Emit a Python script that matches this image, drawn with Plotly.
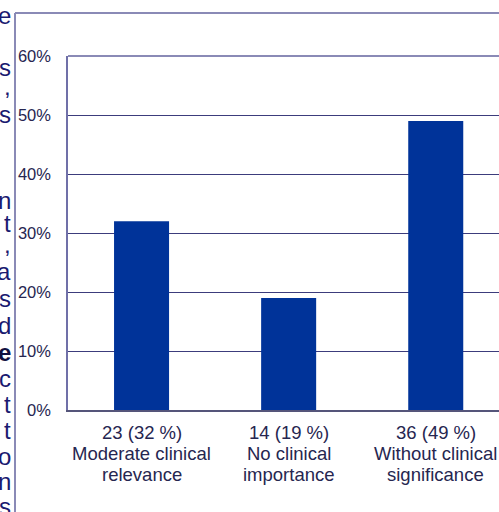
import plotly.graph_objects as go

# ---- data ----
categories = ["Moderate clinical relevance", "No clinical importance", "Without clinical significance"]
counts = [23, 14, 36]
shares = [0.32, 0.19, 0.49]
tick_labels = ["23 (32 %)<br>Moderate clinical<br>relevance",
               "14 (19 %)<br>No clinical<br>importance",
               "36 (49 %)<br>Without clinical<br>significance"]
y_ticks = [0, 0.1, 0.2, 0.3, 0.4, 0.5, 0.6]
y_tick_text = ["0%", "10%", "20%", "30%", "40%", "50%", "60%"]

# cropped text fragments of the surrounding document (left margin)
side_letters = ["e", "s", ",", "s", "n", "t", ",", "a", "s", "d", "e", "c", "t", "t", "o", "n", "s"]
side_letter_y = [15, 67, 86, 114, 200, 224, 244, 271, 298, 325, 352, 378, 404, 430, 456, 481, 507]
side_bold = [False]*10 + [True] + [False]*6

W, H = 499, 512
L, T, B = 68, 56, 102
pw, ph = W - L, H - T - B

def px(x):
    return (x - L) / pw

def py(y):
    return (H - B - y) / ph

fig = go.Figure(go.Bar(
    x=[0, 1, 2], y=shares,
    marker=dict(color="#003399", line=dict(width=0)),
    width=0.374,
))

font_main = "Liberation Sans, Arial, sans-serif"

fig.update_layout(
    width=W, height=H,
    margin=dict(l=L, r=0, t=T, b=B, pad=0),
    paper_bgcolor="white", plot_bgcolor="white",
    showlegend=False,
    font=dict(family=font_main, size=16, color="#262650"),
    xaxis=dict(
        range=[-0.5, 2.43], tickmode="array", tickvals=[0, 1, 2], ticktext=["", "", ""],
        showgrid=False, zeroline=False, showline=True, linecolor="#55557a", linewidth=1.5,
        ticks="",
    ),
    yaxis=dict(
        range=[0, 0.6], tickmode="array", tickvals=y_ticks, ticktext=y_tick_text,
        showgrid=True, gridcolor="#3c3c7c", gridwidth=1, zeroline=False,
        showline=True, linecolor="#7070a8", linewidth=1.5, ticks="",
        tickfont=dict(size=16.5, color="#262650"), ticklabelstandoff=12,
    ),
)

shapes = []
# inner plot box top border
shapes.append(dict(type="line", xref="paper", yref="paper", x0=0, x1=px(W+5), y0=1, y1=1,
                   line=dict(color="#8a8ab6", width=2)))
# outer frame
shapes.append(dict(type="line", xref="paper", yref="paper", x0=px(15), x1=px(W+5), y0=py(13), y1=py(13),
                   line=dict(color="#8a8ab6", width=2)))
shapes.append(dict(type="line", xref="paper", yref="paper", x0=px(15), x1=px(15), y0=py(13), y1=py(H+5),
                   line=dict(color="#8a8ab6", width=2)))
fig.update_layout(shapes=shapes)

ann = []
# category labels (three lines each, tight line spacing as in the reference)
line_y = [432, 453, 474]
for i, lab in enumerate(tick_labels):
    for j, line in enumerate(lab.split("<br>")):
        ann.append(dict(x=i, y=py(line_y[j]), xref="x", yref="paper", xanchor="center", yanchor="middle",
                        text=line, showarrow=False,
                        font=dict(family=font_main, size=18.5, color="#262650")))
for ch, yy, bold in zip(side_letters, side_letter_y, side_bold):
    ann.append(dict(x=px(12), y=py(yy), xref="paper", yref="paper", xanchor="right", yanchor="middle",
                    text=f"<b>{ch}</b>" if bold else ch, showarrow=False, borderpad=0,
                    font=dict(family=font_main, size=24, color="#101040" if bold else "#1a1a70")))
fig.update_layout(annotations=ann)

fig.write_html("out.html")
